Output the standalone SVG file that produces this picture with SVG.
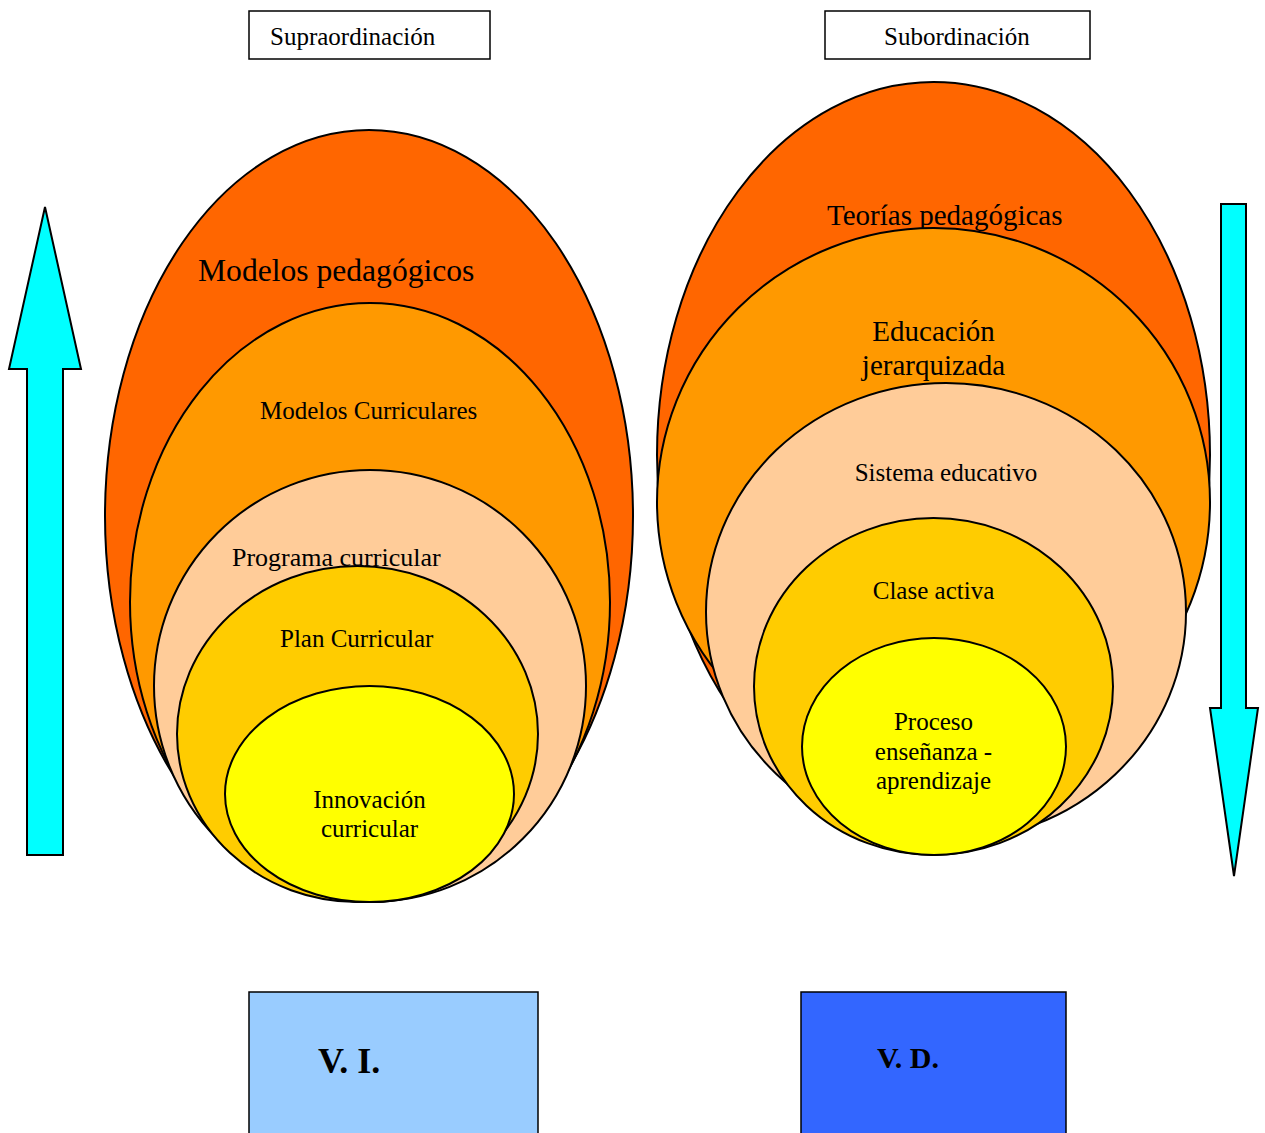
<svg xmlns="http://www.w3.org/2000/svg" width="1265" height="1133" viewBox="0 0 1265 1133">
<style>
  .e { stroke: #000; stroke-width: 2; }
  .box { fill: #fff; stroke: #000; stroke-width: 1.5; }
  .t { font-family: "Liberation Serif", "Times New Roman", serif; fill: #000; font-size: 25px; }
  .big { font-size: 31.6px; }
  .mid { font-size: 29px; }
  .pc { font-size: 26px; }
  .vi { font-size: 36px; font-weight: bold; }
  .vd { font-size: 30px; font-weight: bold; }
  .c1 { fill: #FF6600; }
  .c2 { fill: #FF9900; }
  .c3 { fill: #FFCC99; }
  .c4 { fill: #FFCC00; }
  .c5 { fill: #FFFF00; }
  .arrow { fill: #00FFFF; stroke: #000; stroke-width: 2; stroke-linejoin: miter; }
</style>
<rect width="1265" height="1133" fill="#fff"/>

<g id="supraordinacion">
  <rect class="box" x="249" y="11" width="241" height="48"/>
  <text class="t" x="270" y="45">Supraordinación</text>
</g>
<g id="subordinacion">
  <rect class="box" x="825" y="11" width="265" height="48"/>
  <text class="t" x="884" y="45">Subordinación</text>
</g>

<!-- Left nested ellipses -->
<g id="modelos-pedagogicos">
  <ellipse class="e c1" cx="369" cy="516" rx="264" ry="386"/>
  <text class="t big" x="198" y="281">Modelos pedagógicos</text>
</g>
<g id="modelos-curriculares">
  <ellipse class="e c2" cx="370" cy="602" rx="240" ry="299"/>
  <text class="t" x="260" y="419">Modelos Curriculares</text>
</g>
<g id="programa-curricular">
  <ellipse class="e c3" cx="370" cy="686" rx="216" ry="216"/>
  <text class="t pc" x="232" y="566">Programa curricular</text>
</g>
<g id="plan-curricular">
  <ellipse class="e c4" cx="357.5" cy="734" rx="180.5" ry="168"/>
  <text class="t" x="280" y="647">Plan Curricular</text>
</g>
<g id="innovacion-curricular">
  <ellipse class="e c5" cx="369.5" cy="794" rx="144.5" ry="108"/>
  <text class="t" x="369.5" y="808" text-anchor="middle">Innovación</text>
  <text class="t" x="369.5" y="837" text-anchor="middle">curricular</text>
</g>

<!-- Right nested ellipses -->
<g id="teorias-pedagogicas">
  <ellipse class="e c1" cx="933.5" cy="455" rx="276.5" ry="373"/>
  <text class="t mid" x="827" y="225">Teorías pedagógicas</text>
</g>
<g id="educacion-jerarquizada">
  <ellipse class="e c2" cx="933.5" cy="502" rx="276.5" ry="274"/>
  <text class="t mid" x="933.5" y="341" text-anchor="middle">Educación</text>
  <text class="t mid" x="933.5" y="375" text-anchor="middle">jerarquizada</text>
</g>
<g id="sistema-educativo">
  <ellipse class="e c3" cx="946" cy="612" rx="240" ry="229"/>
  <text class="t" x="946" y="481" text-anchor="middle">Sistema educativo</text>
</g>
<g id="clase-activa">
  <ellipse class="e c4" cx="933.5" cy="686.5" rx="179.5" ry="168.5"/>
  <text class="t" x="933.5" y="599" text-anchor="middle">Clase activa</text>
</g>
<g id="proceso-ensenanza-aprendizaje">
  <ellipse class="e c5" cx="934" cy="746.5" rx="132" ry="108.5"/>
  <text class="t" x="933.5" y="730" text-anchor="middle">Proceso</text>
  <text class="t" x="933.5" y="760" text-anchor="middle">enseñanza -</text>
  <text class="t" x="933.5" y="789" text-anchor="middle">aprendizaje</text>
</g>

<g id="connectors">
  <polygon class="arrow" points="45,207 81,369 63,369 63,855 27,855 27,369 9,369"/>
  <polygon class="arrow" points="1221,204 1246,204 1246,708 1258,708 1234,876 1210,708 1221,708"/>
</g>

<g id="vi">
  <rect x="249" y="992" width="289" height="150" fill="#99CCFF" stroke="#000" stroke-width="1.5"/>
  <text class="t vi" x="318" y="1073">V. I.</text>
</g>
<g id="vd">
  <rect x="801" y="992" width="265" height="150" fill="#3366FF" stroke="#000" stroke-width="1.5"/>
  <text class="t vd" x="877" y="1068">V. D.</text>
</g>
</svg>
